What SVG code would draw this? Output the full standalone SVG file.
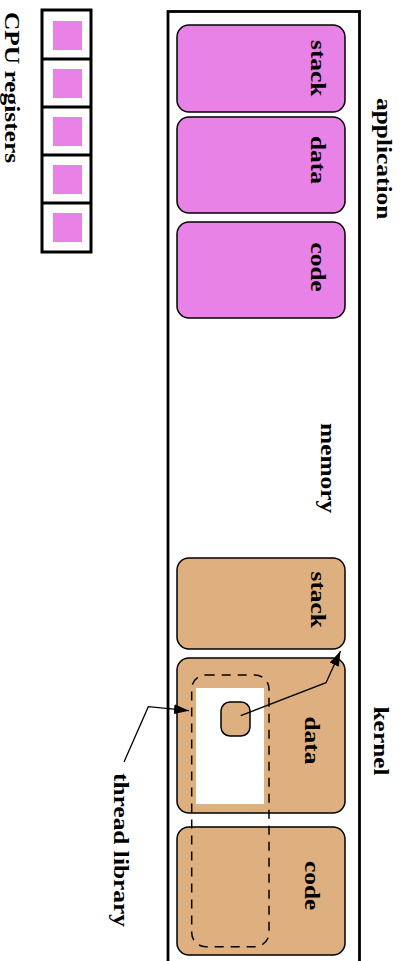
<svg xmlns="http://www.w3.org/2000/svg" width="404" height="961" viewBox="0 0 404 961">
<style>
.lbl{font-family:"Liberation Serif","Times New Roman",serif;font-weight:bold;font-size:22px;fill:#000}
.pink{fill:#e882e6;stroke:#000;stroke-width:1.5}
.tan{fill:#deb080;stroke:#000;stroke-width:1.5}
.frame{fill:none;stroke:#000;stroke-width:2.8}
.conn{fill:none;stroke:#000;stroke-width:1.3}
</style>
<defs>
<marker id="ah" markerUnits="userSpaceOnUse" markerWidth="16" markerHeight="10" refX="15" refY="5" orient="auto">
<path d="M0,0 L15,5 L0,10 Z" fill="#000"/>
</marker>
</defs>
<rect width="404" height="961" fill="#fff"/>

<g id="cpu-registers">
<rect x="42" y="10" width="49" height="242" fill="#fff" stroke="#000" stroke-width="3"/>
<line x1="42" y1="59" x2="91" y2="59" stroke="#000" stroke-width="3"/>
<line x1="42" y1="107" x2="91" y2="107" stroke="#000" stroke-width="3"/>
<line x1="42" y1="155" x2="91" y2="155" stroke="#000" stroke-width="3"/>
<line x1="42" y1="203" x2="91" y2="203" stroke="#000" stroke-width="3"/>
<rect x="53" y="21" width="29" height="29" fill="#e882e6"/>
<rect x="53" y="69" width="29" height="29" fill="#e882e6"/>
<rect x="53" y="117" width="29" height="29" fill="#e882e6"/>
<rect x="53" y="165" width="29" height="29" fill="#e882e6"/>
<rect x="53" y="213" width="29" height="29" fill="#e882e6"/>
<text class="lbl" transform="translate(5,12) rotate(90) scale(1.155,1)">CPU registers</text>
</g>

<g id="memory">
<rect class="frame" x="168" y="11.5" width="191.5" height="960"/>
<text class="lbl" transform="translate(320.5,423) rotate(90) scale(1.155,1)">memory</text>
</g>

<g id="application">
<text class="lbl" transform="translate(376.5,98) rotate(90) scale(1.155,1)">application</text>
</g>
<g id="app-stack">
<rect class="pink" x="177" y="25" width="168" height="87" rx="12"/>
<text class="lbl" transform="translate(310.5,40) rotate(90) scale(1.155,1)">stack</text>
</g>
<g id="app-data">
<rect class="pink" x="177" y="117" width="168" height="96" rx="12"/>
<text class="lbl" transform="translate(310.5,136) rotate(90) scale(1.155,1)">data</text>
</g>
<g id="app-code">
<rect class="pink" x="177" y="222" width="168" height="96" rx="12"/>
<text class="lbl" transform="translate(310.5,242.5) rotate(90) scale(1.155,1)">code</text>
</g>

<g id="kernel">
<text class="lbl" transform="translate(374,706.5) rotate(90) scale(1.155,1)">kernel</text>
</g>
<g id="kernel-stack">
<rect class="tan" x="177" y="558" width="168" height="91" rx="12"/>
<text class="lbl" transform="translate(310.5,571.5) rotate(90) scale(1.155,1)">stack</text>
</g>
<g id="kernel-data">
<rect class="tan" x="177" y="658" width="168" height="155" rx="12"/>
<rect x="196" y="688" width="68" height="116" fill="#fff"/>
<rect class="tan" x="221" y="702" width="29" height="34" rx="9"/>
<text class="lbl" transform="translate(305,716.5) rotate(90) scale(1.155,1)">data</text>
</g>
<g id="kernel-code">
<rect class="tan" x="177" y="827" width="168" height="128" rx="12"/>
<text class="lbl" transform="translate(305,861) rotate(90) scale(1.155,1)">code</text>
</g>

<g id="thread-library">
<rect x="191.7" y="675" width="77.3" height="271.7" rx="14" fill="none" stroke="#000" stroke-width="1.5" stroke-dasharray="9 7"/>
<text class="lbl" transform="translate(114,773) rotate(90) scale(1.155,1)">thread library</text>
</g>

<g id="connectors">
<polyline class="conn" points="240.7,715.7 326,682.7 340.5,651" marker-end="url(#ah)"/>
<polyline class="conn" points="124,762 148.3,706.7 189,710.7" marker-end="url(#ah)"/>
</g>
</svg>
